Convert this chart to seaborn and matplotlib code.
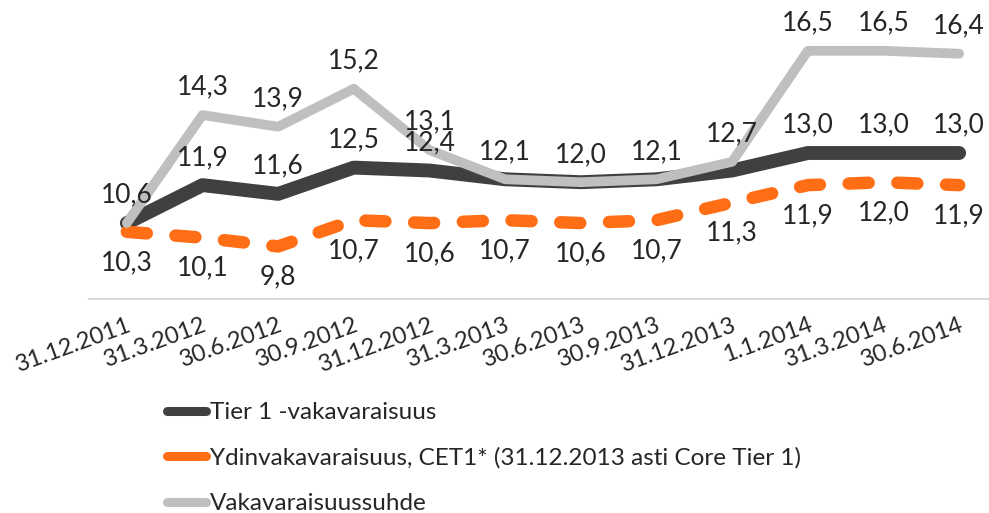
import matplotlib
matplotlib.use("Agg")
import matplotlib.pyplot as plt
from matplotlib.lines import Line2D
import seaborn as sns
import pandas as pd

dates = ["31.12.2011", "31.3.2012", "30.6.2012", "30.9.2012", "31.12.2012", "31.3.2013",
         "30.6.2013", "30.9.2013", "31.12.2013", "1.1.2014", "31.3.2014", "30.6.2014"]
tier1 = [10.6, 11.9, 11.6, 12.5, 12.4, 12.1, 12.0, 12.1, 12.4, 13.0, 13.0, 13.0]
cet1 = [10.3, 10.1, 9.8, 10.7, 10.6, 10.7, 10.6, 10.7, 11.3, 11.9, 12.0, 11.9]
total = [10.6, 14.3, 13.9, 15.2, 13.1, 12.1, 12.0, 12.1, 12.7, 16.5, 16.5, 16.4]
# which tier1 labels are shown (others hidden behind the total ratio labels)
tier1_show = [False, True, True, True, True, False, False, False, False, True, True, True]

names = ["Tier 1 -vakavaraisuus",
         "Ydinvakavaraisuus, CET1* (31.12.2013 asti Core Tier 1)",
         "Vakavaraisuussuhde"]
c_dark = "#404040"
c_orange = "#FF6D14"
c_gray = "#BFBFBF"

sns.set_style("white")
plt.rcParams["font.family"] = ["Lato", "DejaVu Sans"]

fig = plt.figure(figsize=(9.89, 5.13), dpi=100)
ax = fig.add_axes([89 / 989, 214 / 513, 908 / 989, 292 / 513])

df = pd.DataFrame({"x": range(len(dates)), "tier1": tier1, "cet1": cet1, "total": total})

sns.lineplot(data=df, x="x", y="tier1", color=c_dark, lw=10, ax=ax, legend=False)
sns.lineplot(data=df, x="x", y="cet1", color=c_orange, lw=9, ax=ax, legend=False)
sns.lineplot(data=df, x="x", y="total", color=c_gray, lw=7, ax=ax, legend=False)

for ln in ax.lines:
    ln.set_solid_capstyle("round")
    ln.set_solid_joinstyle("round")
ax.lines[1].set_linestyle((0, (1.6, 2.3)))
ax.lines[1].set_dash_capstyle("round")

fs = 19
for i in range(len(dates)):
    ax.annotate(f"{total[i]:.1f}".replace(".", ","), (i, total[i]), xytext=(0, 20),
                textcoords="offset points", ha="center", va="center", fontsize=fs)
    if tier1_show[i]:
        ax.annotate(f"{tier1[i]:.1f}".replace(".", ","), (i, tier1[i]), xytext=(0, 20),
                    textcoords="offset points", ha="center", va="center", fontsize=fs)
    ax.annotate(f"{cet1[i]:.1f}".replace(".", ","), (i, cet1[i]), xytext=(0, -22),
                textcoords="offset points", ha="center", va="center", fontsize=fs)

ax.set_xlim(-0.5, len(dates) - 0.5)
ax.set_ylim(8, 18)
ax.set_yticks([])
ax.set_xticks(range(len(dates)))
ax.set_xticklabels(dates, rotation=20, ha="right", va="top", rotation_mode="anchor", fontsize=17)
ax.tick_params(axis="x", length=0, pad=11)
ax.set_xlabel("")
ax.set_ylabel("")
for s in ["top", "left", "right"]:
    ax.spines[s].set_visible(False)
ax.spines["bottom"].set_color("#D9D9D9")
ax.spines["bottom"].set_linewidth(1.5)

handles = [Line2D([0], [0], color=c_dark, lw=6.5, solid_capstyle="round"),
           Line2D([0], [0], color=c_orange, lw=6.5, solid_capstyle="round"),
           Line2D([0], [0], color=c_gray, lw=6.5, solid_capstyle="round")]
fig.legend(handles, names, loc="upper left", bbox_to_anchor=(167 / 989, 1 - 402 / 513),
           frameon=False, fontsize=17.5, handlelength=1.6, handletextpad=0.15,
           labelspacing=1.0, borderpad=0, borderaxespad=0)

fig.savefig("out.png", dpi=100)
